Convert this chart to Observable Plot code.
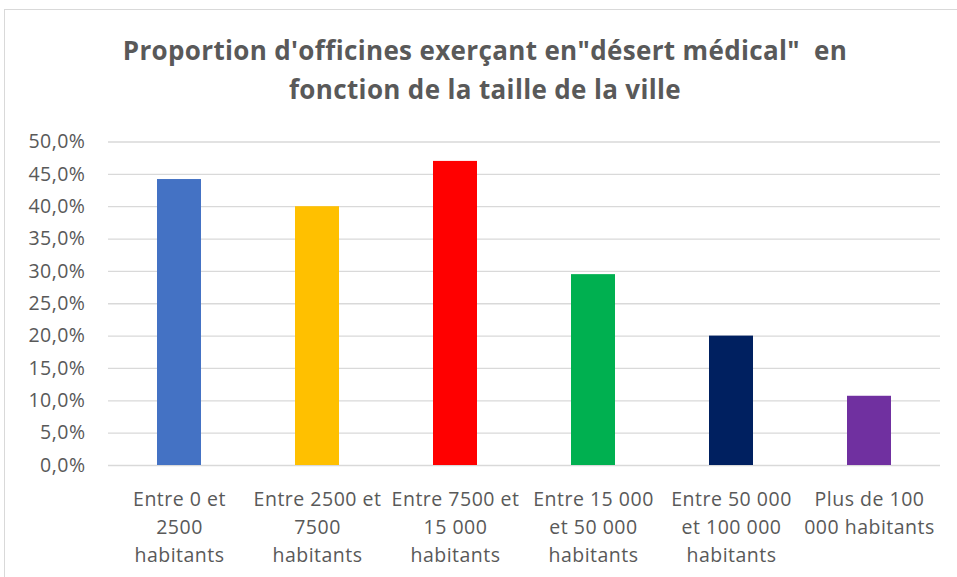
<!DOCTYPE html>
<html>
<head>
<meta charset="utf-8">
<script src="https://cdn.jsdelivr.net/npm/d3@7"></script>
<script src="https://cdn.jsdelivr.net/npm/@observablehq/plot@0.6"></script>
<style>
  html, body { margin: 0; padding: 0; background: #fff; }
  #wrap { position: relative; width: 957px; height: 577px; overflow: hidden; font-family: "Open Sans", sans-serif; }
  #frame { position: absolute; left: 4px; top: 9px; width: 1000px; height: 600px; border-left: 1.5px solid #d9d9d9; border-top: 1.5px solid #d9d9d9; }
  #title { position: absolute; left: 0; top: 0; width: 957px; height: 125px; box-sizing: border-box; padding-top: 31px; padding-left: 13px;
           text-align: center; color: #595959; font-weight: bold; font-size: 26px; letter-spacing: 0.35px; line-height: 39px; }
  #chart { position: absolute; left: 0; top: 125px; }
</style>
</head>
<body>
<div id="wrap">
  <div id="frame"></div>
  <div id="title">Proportion d'officines exerçant en"désert médical"&nbsp; en<br>fonction de la taille de la ville</div>
  <div id="chart"></div>
</div>
<script>
const categories = [
  "Entre 0 et 2500 habitants",
  "Entre 2500 et 7500 habitants",
  "Entre 7500 et 15 000 habitants",
  "Entre 15 000 et 50 000 habitants",
  "Entre 50 000 et 100 000 habitants",
  "Plus de 100 000 habitants"
];
const tickLabels = [
  "Entre 0 et\n2500\nhabitants",
  "Entre 2500 et\n7500\nhabitants",
  "Entre 7500 et\n15 000\nhabitants",
  "Entre 15 000\net 50 000\nhabitants",
  "Entre 50 000\net 100 000\nhabitants",
  "Plus de 100\n000 habitants"
];
const values = [44.2, 40.0, 47.0, 29.5, 20.0, 10.7];
const colors = ["#4472C4", "#FFC000", "#FF0000", "#00B050", "#002060", "#7030A0"];
const yTicks = [0, 5, 10, 15, 20, 25, 30, 35, 40, 45, 50];

const data = categories.map((c, i) => ({category: c, value: values[i], color: colors[i]}));
const labelOf = new Map(categories.map((c, i) => [c, tickLabels[i]]));
const fmt = d => d.toFixed(1).replace(".", ",") + "%";

const chart = Plot.plot({
  width: 957,
  height: 452,
  marginTop: 16.5,
  marginBottom: 112,
  marginLeft: 108,
  marginRight: 17,
  style: {fontFamily: "'Open Sans', sans-serif", color: "#595959", background: "transparent", letterSpacing: "0.5px"},
  x: {domain: categories, paddingInner: 0.68, paddingOuter: 0.34, label: null},
  y: {domain: [0, 50], label: null},
  marks: [
    Plot.ruleY(yTicks, {stroke: "#d9d9d9", strokeWidth: 1.3}),
    Plot.barY(data, {x: "category", y: "value", fill: "color"}),
    Plot.axisY({ticks: yTicks, tickFormat: fmt, tickSize: 0, tickPadding: 23, fontSize: 19.5, fill: "#595959", label: null}),
    Plot.axisX({tickFormat: d => labelOf.get(d), tickSize: 0, tickPadding: 20, fontSize: 19.5, lineHeight: 1.45, fill: "#595959", label: null})
  ]
});
document.getElementById("chart").appendChild(chart);
</script>
</body>
</html>
